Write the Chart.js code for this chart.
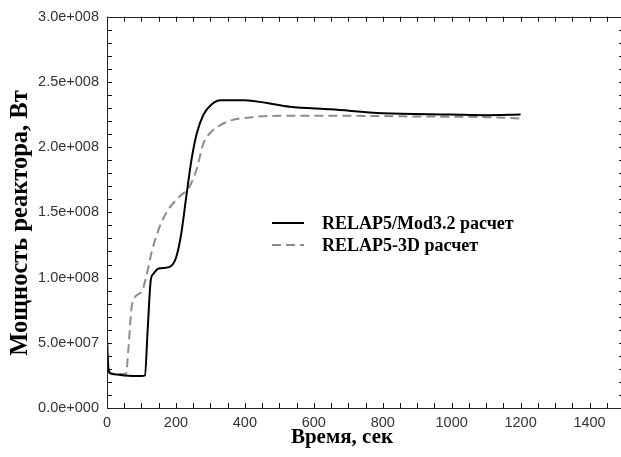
<!DOCTYPE html>
<html>
<head>
<meta charset="utf-8">
<script src="https://cdn.jsdelivr.net/npm/chart.js@4/dist/chart.umd.min.js"></script>
<style>
html,body{margin:0;padding:0;background:#fff;overflow:hidden;}
#wrap{width:640px;height:457px;position:relative;}
</style>
</head>
<body>
<div id="wrap"><canvas id="c"></canvas></div>
<script>
// ---- data ----
const seriesNames = ["RELAP5/Mod3.2 расчет", "RELAP5-3D расчет"];
const mod32Time  = [0, 5, 15, 50, 100, 110, 118, 127, 135, 150, 180, 200, 215, 230, 245, 260, 280, 300, 330, 400, 460, 530, 650, 800, 1000, 1100, 1200];
const mod32Power = [5.2e7, 2.8e7, 2.6e7, 2.5e7, 2.45e7, 2.5e7, 6.0e7, 9.8e7, 1.03e8, 1.07e8, 1.08e8, 1.15e8, 1.33e8, 1.62e8, 1.9e8, 2.1e8, 2.25e8, 2.32e8, 2.36e8, 2.36e8, 2.34e8, 2.31e8, 2.29e8, 2.26e8, 2.25e8, 2.245e8, 2.25e8];
const r3dTime  = [0, 5, 15, 55, 62, 73, 100, 115, 130, 150, 175, 210, 240, 260, 280, 300, 330, 360, 420, 500, 700, 900, 1100, 1200];
const r3dPower = [5.2e7, 2.9e7, 2.65e7, 2.6e7, 4.5e7, 8.0e7, 8.9e7, 1.02e8, 1.2e8, 1.37e8, 1.51e8, 1.62e8, 1.7e8, 1.83e8, 2.03e8, 2.11e8, 2.17e8, 2.205e8, 2.23e8, 2.24e8, 2.24e8, 2.235e8, 2.23e8, 2.22e8];
const xTickValues = [0, 200, 400, 600, 800, 1000, 1200, 1400];
const yTickValues = [0, 5e7, 1e8, 1.5e8, 2e8, 2.5e8, 3e8];
const xTitle = "Время, сек";
const yTitle = "Мощность реактора, Вт";
const xMin = 0, xMax = 1500, xMinor = 50;
const yMin = 0, yMax = 3e8, yMinor = 1e7;

function sci(v){
  if (v === 0) return "0.0e+000";
  const e = Math.floor(Math.log10(Math.abs(v)) + 1e-9);
  const m = v / Math.pow(10, e);
  return m.toFixed(1) + "e" + (e >= 0 ? "+" : "-") + String(Math.abs(e)).padStart(3, "0");
}

const toPts = (xs, ys) => xs.map((x, i) => ({x: x, y: ys[i]}));
const titleFamily = '"Liberation Serif", "Times New Roman", serif';

// inward ticks on all four sides + frame
const innerTicks = {
  id: 'innerTicks',
  afterDatasetsDraw(chart){
    const {ctx, chartArea: a, scales: {x, y}} = chart;
    ctx.save();
    ctx.strokeStyle = '#111';
    ctx.lineWidth = 1;
    ctx.beginPath();
    for (let i = 0; i * xMinor <= xMax; i++){
      const v = i * xMinor;
      const px = Math.round(x.getPixelForValue(v)) + 0.5;
      ctx.moveTo(px, a.bottom); ctx.lineTo(px, a.bottom - 5);
      ctx.moveTo(px, a.top); ctx.lineTo(px, a.top + 5);
    }
    for (let i = 0; i * yMinor <= yMax; i++){
      const v = i * yMinor;
      const py = Math.round(y.getPixelForValue(v)) + 0.5;
      ctx.moveTo(a.left, py); ctx.lineTo(a.left + 5, py);
      ctx.moveTo(a.right, py); ctx.lineTo(a.right - 5, py);
    }
    ctx.stroke();
    ctx.strokeStyle = '#222';
    ctx.strokeRect(Math.round(a.left) + 0.5, Math.round(a.top) + 0.5, Math.round(a.right - a.left), Math.round(a.bottom - a.top));
    ctx.restore();
  }
};

// axis titles, placed where the reference has them
const axisTitles = {
  id: 'axisTitles',
  afterDraw(chart){
    const {ctx} = chart;
    ctx.save();
    ctx.fillStyle = '#000';
    ctx.textAlign = 'center';
    ctx.textBaseline = 'middle';
    ctx.font = 'bold 21px ' + titleFamily;
    ctx.fillText(xTitle, 342, 438);
    ctx.translate(21, 223);
    ctx.rotate(-Math.PI / 2);
    ctx.font = 'bold 24.5px ' + titleFamily;
    ctx.fillText(yTitle, 0, 0);
    ctx.restore();
  }
};

// legend drawn inside the plot area
const innerLegend = {
  id: 'innerLegend',
  afterDatasetsDraw(chart){
    const {ctx} = chart;
    const x0 = 272, x1 = 304, tx = 322, y0 = 223, dy = 22;
    ctx.save();
    chart.data.datasets.forEach((ds, i) => {
      const yy = y0 + i * dy;
      ctx.strokeStyle = ds.borderColor;
      ctx.lineWidth = ds.borderWidth;
      ctx.setLineDash(ds.borderDash || []);
      ctx.beginPath(); ctx.moveTo(x0, yy); ctx.lineTo(x1, yy); ctx.stroke();
      ctx.setLineDash([]);
      ctx.fillStyle = '#000';
      ctx.font = 'bold 18px ' + titleFamily;
      ctx.textBaseline = 'middle';
      ctx.fillText(ds.label, tx, yy + 1);
    });
    ctx.restore();
  }
};

const tickFont = {family: '"Liberation Sans", Arial, sans-serif', size: 14.5};

new Chart(document.getElementById('c'), {
  type: 'line',
  data: {
    datasets: [
      {label: seriesNames[0], data: toPts(mod32Time, mod32Power), borderColor: '#000', borderWidth: 2, pointRadius: 0, cubicInterpolationMode: 'monotone', fill: false},
      {label: seriesNames[1], data: toPts(r3dTime, r3dPower), borderColor: '#8c8c8c', borderWidth: 2, borderDash: [9, 5], pointRadius: 0, cubicInterpolationMode: 'monotone', fill: false}
    ]
  },
  options: {
    responsive: true,
    maintainAspectRatio: false,
    animation: false,
    layout: {padding: {top: 14, right: 16, left: 0, bottom: 0}},
    plugins: {legend: {display: false}, tooltip: {enabled: false}},
    scales: {
      x: {
        type: 'linear', min: xMin, max: xMax,
        afterBuildTicks(s){ s.ticks = xTickValues.map(v => ({value: v})); },
        afterFit(s){ s.height = 49; },
        grid: {display: false, drawTicks: false},
        border: {display: false},
        ticks: {padding: 6, color: '#333', font: tickFont, maxRotation: 0, autoSkip: false,
          callback(v){ return String(v); }},
        title: {display: false, text: xTitle}
      },
      y: {
        type: 'linear', min: yMin, max: yMax,
        afterBuildTicks(s){ s.ticks = yTickValues.map(v => ({value: v})); },
        afterFit(s){ s.width = 107; },
        grid: {display: false, drawTicks: false},
        border: {display: false},
        ticks: {padding: 8, color: '#333', font: tickFont, autoSkip: false,
          callback(v){ return sci(v); }},
        title: {display: false, text: yTitle}
      }
    }
  },
  plugins: [innerTicks, innerLegend, axisTitles]
});
</script>
</body>
</html>
